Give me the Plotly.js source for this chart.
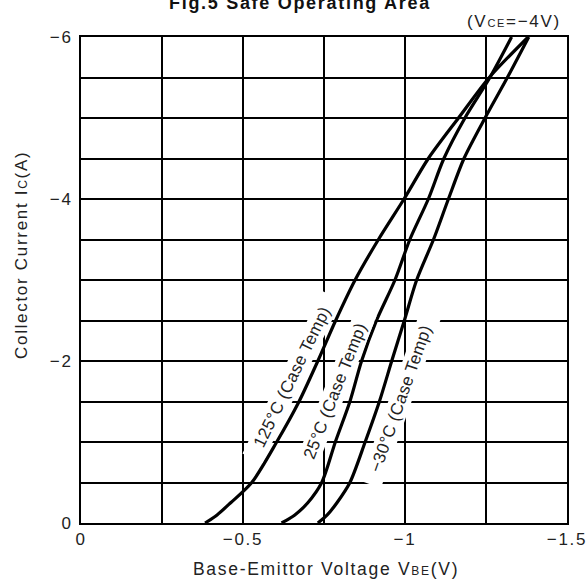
<!DOCTYPE html>
<html>
<head>
<meta charset="utf-8">
<script src="https://cdn.plot.ly/plotly-3.0.1.min.js"></script>
<style>
  html, body { margin: 0; padding: 0; background: #fff; }
  #chart { width: 588px; height: 581px; }
  text { letter-spacing: 1.7px; }
  .annotation[data-index="0"] text,
  .annotation[data-index="1"] text,
  .annotation[data-index="2"] text { letter-spacing: 0.3px; }
</style>
</head>
<body>
<div id="chart"></div>
<script>
// Collector current Ic (A)
const current = [0, -0.1, -0.25, -0.5, -1, -1.5, -2, -2.5, -3, -3.5, -4, -4.5, -5, -5.5, -6];
// Base-emitter voltage VBE (V) for each case temperature
const vbe125 = [-0.383, -0.42, -0.462, -0.527, -0.604, -0.673, -0.731, -0.786, -0.846, -0.918, -0.997, -1.072, -1.165, -1.26, -1.38];
const vbe25  = [-0.619, -0.66, -0.70, -0.743, -0.785, -0.83, -0.866, -0.912, -0.969, -1.015, -1.072, -1.12, -1.185, -1.262, -1.329];
const vbeM30 = [-0.731, -0.76, -0.79, -0.83, -0.877, -0.921, -0.959, -0.998, -1.036, -1.088, -1.134, -1.182, -1.247, -1.316, -1.382];

const curveLabels = ['125°C (Case Temp)', '25°C (Case Temp)', '−30°C (Case Temp)'];

const xTickVals = [0, -0.25, -0.5, -0.75, -1, -1.25, -1.5];
const xTickText = ['0', '', '−0.5', '', '−1', '', '−1.5'];
const yTickVals = [0, -0.5, -1, -1.5, -2, -2.5, -3, -3.5, -4, -4.5, -5, -5.5, -6];
const yTickText = ['0', '', '', '', '−2', '', '', '', '−4', '', '', '', '−6'];

const FONT = 'Liberation Sans, Arial, Helvetica, sans-serif';
const lineStyle = { color: '#000', width: 3.2, shape: 'spline', smoothing: 0.8 };

const traces = [vbe125, vbe25, vbeM30].map((v, i) => ({
  x: v, y: current, type: 'scatter', mode: 'lines',
  line: lineStyle, name: curveLabels[i], hoverinfo: 'skip'
}));

const labelPos = [
  { x: -0.650, y: -1.80, a: -64 },
  { x: -0.786, y: -1.63, a: -68.5 },
  { x: -0.987, y: -1.54, a: -70.5 }
];

const annotations = curveLabels.map((t, i) => ({
  text: t, x: labelPos[i].x, y: labelPos[i].y, xref: 'x', yref: 'y',
  showarrow: false, textangle: labelPos[i].a, bgcolor: '#fff', borderpad: 1,
  font: { family: FONT, size: 17, color: '#222' }
}));

annotations.push(
  { text: '<b>Fig.5 Safe Operating Area</b>', xref: 'paper', yref: 'paper',
    x: 0.4506, y: 1.046, xanchor: 'center', yanchor: 'bottom', showarrow: false,
    font: { family: FONT, size: 18, color: '#111' } },
  { text: '(V<span style="font-size:11px">CE</span>=−4V)', xref: 'paper', yref: 'paper',
    x: 0.9918, y: 1.031, xanchor: 'right', yanchor: 'middle', showarrow: false,
    font: { family: FONT, size: 17, color: '#222' } },
  { text: 'Collector Current I<span style="font-size:12px">C</span>(A)', xref: 'paper', yref: 'paper',
    x: -0.1235, y: 0.5514, xanchor: 'center', yanchor: 'middle', textangle: -90, showarrow: false,
    font: { family: FONT, size: 17, color: '#222' } },
  { text: 'Base-Emittor Voltage V<span style="font-size:12px">BE</span>(V)', xref: 'paper', yref: 'paper',
    x: 0.504, y: -0.0947, xanchor: 'center', yanchor: 'middle', showarrow: false,
    font: { family: FONT, size: 17.5, color: '#222' } }
);

const axisCommon = {
  showgrid: true, gridcolor: '#000', gridwidth: 2,
  showline: true, linecolor: '#000', linewidth: 2, mirror: true,
  zeroline: false, ticks: '', tickmode: 'array',
  tickfont: { family: FONT, size: 17, color: '#222' }
};

const layout = {
  width: 588, height: 581,
  margin: { l: 81, r: 21, t: 37, b: 58 },
  paper_bgcolor: '#fff', plot_bgcolor: '#fff',
  showlegend: false,
  xaxis: Object.assign({}, axisCommon, {
    range: [0, -1.5], tickvals: xTickVals, ticktext: xTickText, ticklabelstandoff: 0
  }),
  yaxis: Object.assign({}, axisCommon, {
    range: [0, -6], tickvals: yTickVals, ticktext: yTickText, ticklabelstandoff: 3
  }),
  annotations: annotations
};

Plotly.newPlot('chart', traces, layout, { staticPlot: true, displayModeBar: false });
</script>
</body>
</html>
